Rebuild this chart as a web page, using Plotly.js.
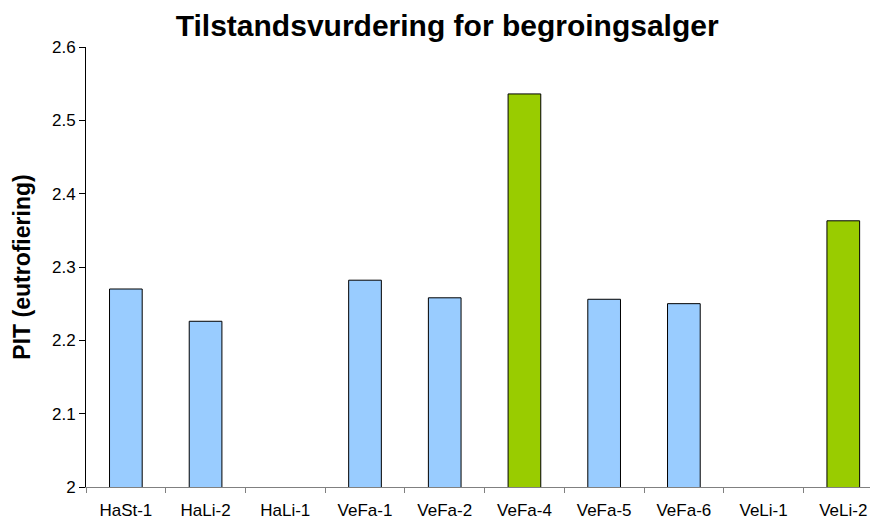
<!DOCTYPE html>
<html>
<head>
<meta charset="utf-8">
<script src="https://cdn.plot.ly/plotly-3.0.1.min.js"></script>
<style>html,body{margin:0;padding:0;background:#fff;}#chart{width:870px;height:519px;}</style>
</head>
<body>
<div id="chart"></div>
<script>
const categories = ["HaSt-1","HaLi-2","HaLi-1","VeFa-1","VeFa-2","VeFa-4","VeFa-5","VeFa-6","VeLi-1","VeLi-2"];
const pitValues = [2.270, 2.226, null, 2.282, 2.258, 2.536, 2.256, 2.250, null, 2.363];
const highlighted = [false, false, false, false, false, true, false, false, false, true];

const barColors = highlighted.map(h => h ? "#99CC00" : "#99CCFF");

const trace = {
  type: "bar",
  x: categories,
  y: pitValues,
  width: 0.41,
  marker: {color: barColors, line: {color: "#000000", width: 1}},
  hoverinfo: "x+y"
};

const FONT = "Liberation Sans, Arial, sans-serif";

const layout = {
  width: 870,
  height: 519,
  margin: {l: 86, r: 0, t: 47, b: 32, pad: 0},
  paper_bgcolor: "#ffffff",
  plot_bgcolor: "#ffffff",
  showlegend: false,
  title: {
    text: "<b>Tilstandsvurdering for begroingsalger</b>",
    font: {family: FONT, size: 30, color: "#000"},
    x: 0.514, xanchor: "center", y: 0.95, yanchor: "middle"
  },
  xaxis: {
    type: "category",
    range: [-0.5, 9.335],
    showline: true, linecolor: "#808080", linewidth: 1,
    ticks: "outside", tickson: "boundaries", ticklen: 5, tickcolor: "#808080",
    ticklabelstandoff: 8,
    showgrid: false, zeroline: false,
    tickfont: {family: FONT, size: 17, color: "#000"},
    fixedrange: true
  },
  yaxis: {
    range: [2, 2.6],
    dtick: 0.1, tick0: 2,
    showline: true, linecolor: "#000000", linewidth: 1,
    ticks: "outside", ticklen: 6, tickcolor: "#000000",
    showgrid: false, zeroline: false,
    tickfont: {family: FONT, size: 17, color: "#000"},
    title: {
      text: "<b>PIT (eutrofiering)</b>",
      font: {family: FONT, size: 23, color: "#000"},
      standoff: 14
    },
    fixedrange: true
  }
};

Plotly.newPlot("chart", [trace], layout, {displayModeBar: false, staticPlot: true});
</script>
</body>
</html>
